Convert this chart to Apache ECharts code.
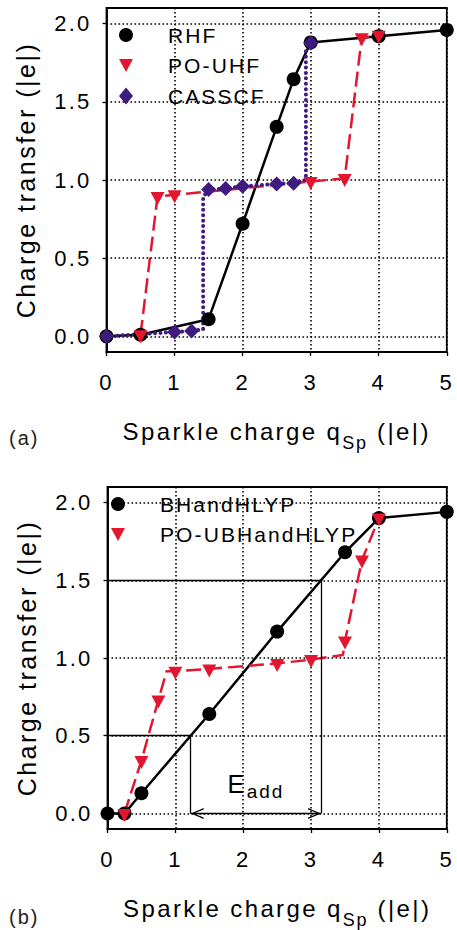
<!DOCTYPE html>
<html><head><meta charset="utf-8">
<script src="https://cdn.jsdelivr.net/npm/echarts@6/dist/echarts.min.js"></script>
<style>
html,body{margin:0;padding:0;background:#fff;}
#c{width:457px;height:930px;}
#c text{letter-spacing:0.1em !important;}
</style></head><body><div id="c"></div>
<script>
// ---------------- data ----------------
const xTicks = [0, 1, 2, 3, 4, 5];
const yTicks = [0, 0.5, 1.0, 1.5, 2.0];

// panel (a)
const rhfX = [0, 0.5, 1.5, 2.0, 2.5, 2.75, 3.0, 4.0, 5.0];
const rhfY = [0, 0.01, 0.11, 0.72, 1.34, 1.645, 1.88, 1.92, 1.96];

const pouhfX = [0.5, 0.75, 1.0, 3.0, 3.5, 3.75, 4.0];
const pouhfY = [0.01, 0.895, 0.905, 0.99, 1.01, 1.91, 1.925];

const casX = [0, 1.0, 1.25, 1.42, 1.42, 1.5, 1.75, 2.0, 2.5, 2.75, 2.93, 2.93, 3.0];
const casY = [0, 0.028, 0.034, 0.045, 0.89, 0.94, 0.945, 0.96, 0.975, 0.98, 1.0, 1.83, 1.876];
const casMark = [1, 1, 1, 0, 0, 1, 1, 1, 1, 1, 0, 0, 1];

// panel (b)
const bhX = [0, 0.25, 0.5, 1.5, 2.5, 3.5, 4.0, 5.0];
const bhY = [0, 0.0, 0.13, 0.64, 1.17, 1.68, 1.90, 1.94];

const pobhX = [0.25, 0.5, 0.75, 0.87, 1.0, 1.5, 2.5, 3.0, 3.47, 3.5, 3.75, 4.0];
const pobhY = [0.0, 0.34, 0.73, 0.915, 0.915, 0.93, 0.965, 0.99, 1.02, 1.11, 1.63, 1.90];
const pobhMark = [1, 1, 1, 0, 1, 1, 1, 1, 0, 1, 1, 1];

const eaddLevels = [0.5, 1.5];

// ---------------- styling helpers ----------------
const FONT = 'Liberation Sans';
const LS = 0.1;
const RED = '#e3162f';
const PURPLE = '#3f1b80';
const TRI = 'path://M0,0 L12,0 L6,11 Z';
const CHEV = 'path://M5,-12 L5.001,-12 Z M5,0 L10,12 L8.7,12 L5,2.9 L1.3,12 L0,12 Z';
const GRIDDOT = { color: '#000', width: 1.6, type: [1.6, 2.4] };

const mctx = document.createElement('canvas').getContext('2d');
echarts.setPlatformAPI({
  measureText(text, font) {
    mctx.font = font || '12px sans-serif';
    const w = mctx.measureText(text).width;
    if (text === '国') return { width: w };
    const m = /(\d+(?:\.\d+)?)px/.exec(font || '');
    const size = m ? parseFloat(m[1]) : 12;
    return { width: w + LS * size * Array.from(String(text)).length };
  }
});

function pts(xs, ys, mk) {
  return xs.map((x, i) => {
    const o = { value: [x, ys[i]] };
    if (mk && !mk[i]) o.symbol = 'none';
    return o;
  });
}
function crossing(xs, ys, level) {
  for (let i = 1; i < xs.length; i++) {
    if ((ys[i - 1] - level) * (ys[i] - level) <= 0 && ys[i] !== ys[i - 1]) {
      return xs[i - 1] + (level - ys[i - 1]) * (xs[i] - xs[i - 1]) / (ys[i] - ys[i - 1]);
    }
  }
  return null;
}
const xLo = crossing(bhX, bhY, eaddLevels[0]);
const xHi = crossing(bhX, bhY, eaddLevels[1]);

function mkX(gi) {
  return {
    gridIndex: gi, type: 'value', min: 0, max: 5, interval: 1,
    axisLine: { onZero: false, lineStyle: { color: '#000', width: 1.8 } },
    axisTick: { show: true, length: 4, lineStyle: { color: '#000', width: 1.3 } },
    axisLabel: { fontSize: 22, fontFamily: FONT, color: '#000', margin: 19 },
    splitLine: { show: true, lineStyle: GRIDDOT },
    name: '{m|Sparkle charge q}{s|Sp}{m| (|e|)}',
    nameLocation: 'middle', nameGap: 59,
    nameTextStyle: {
      fontSize: 24, fontFamily: FONT, color: '#000',
      rich: {
        m: { fontSize: 24, fontFamily: FONT, color: '#000', verticalAlign: 'middle' },
        s: { fontSize: 18, fontFamily: FONT, color: '#000', verticalAlign: 'middle', padding: [23, 0, 0, 0] }
      }
    }
  };
}
function mkY(gi) {
  return {
    gridIndex: gi, type: 'value', min: -0.1, max: 2.1,
    axisLine: { onZero: false, lineStyle: { color: '#000', width: 1.8 } },
    axisTick: { show: true, length: 4, customValues: yTicks, lineStyle: { color: '#000', width: 1.3 } },
    axisLabel: { customValues: yTicks, fontSize: 22, fontFamily: FONT, color: '#000', margin: 15,
      formatter: v => Number(v).toFixed(1) },
    splitLine: { show: true, lineStyle: GRIDDOT },
    name: 'Charge transfer (|e|)', nameLocation: 'middle', nameGap: 68, nameRotate: 90,
    nameTextStyle: { fontSize: 25, fontFamily: FONT, color: '#000' }
  };
}
function legend(left, top, items) {
  return {
    left, top, orient: 'vertical', padding: 0, itemWidth: 14, itemHeight: 17, itemGap: 9.5,
    selectedMode: false, lineStyle: { opacity: 0 },
    textStyle: { fontSize: 21, fontFamily: FONT, color: '#000', padding: [0, 0, 0, 30] },
    data: items
  };
}
const noEmph = { disabled: true };

const option = {
  animation: false,
  grid: [
    { left: 106.5, top: 8, right: 6, height: 344, show: true, borderColor: '#000', borderWidth: 1.8 },
    { left: 107.5, top: 487, right: 5.5, height: 345, show: true, borderColor: '#000', borderWidth: 1.8 }
  ],
  xAxis: [mkX(0), mkX(1)],
  yAxis: [mkY(0), mkY(1)],
  legend: [
    legend(119, 24.5, [{ name: 'RHF', icon: 'circle' }, { name: 'PO-UHF', icon: TRI }, { name: 'CASSCF', icon: 'diamond' }]),
    legend(111, 493.5, [{ name: 'BHandHLYP', icon: 'circle' }, { name: 'PO-UBHandHLYP', icon: TRI }])
  ],
  graphic: [
    { type: 'text', left: 9, top: 428, style: { text: '(a)', fontSize: 20, fontFamily: FONT, fill: '#222' } },
    { type: 'text', left: 9, top: 907, style: { text: '(b)', fontSize: 20, fontFamily: FONT, fill: '#222' } }
  ],
  series: [
    { name: 'RHF', type: 'line', xAxisIndex: 0, yAxisIndex: 0, data: pts(rhfX, rhfY),
      symbol: 'circle', symbolSize: 14, itemStyle: { color: '#000', borderWidth: 0 },
      lineStyle: { color: '#000', width: 2.5 }, emphasis: noEmph },
    { name: 'PO-UHF', type: 'line', xAxisIndex: 0, yAxisIndex: 0, data: pts(pouhfX, pouhfY),
      symbol: TRI, symbolSize: [14, 13], symbolOffset: [0, 2], itemStyle: { color: RED, borderWidth: 0 },
      lineStyle: { color: RED, width: 2.5, type: [15, 6] }, emphasis: noEmph },
    { name: 'CASSCF', type: 'line', xAxisIndex: 0, yAxisIndex: 0, data: pts(casX, casY, casMark),
      symbol: 'diamond', symbolSize: 15, itemStyle: { color: PURPLE, borderWidth: 0 },
      lineStyle: { color: PURPLE, width: 4, type: [0.01, 5.4], cap: 'round' }, emphasis: noEmph },
    { name: 'BHandHLYP', type: 'line', xAxisIndex: 1, yAxisIndex: 1, data: pts(bhX, bhY),
      symbol: 'circle', symbolSize: 14, itemStyle: { color: '#000', borderWidth: 0 },
      lineStyle: { color: '#000', width: 2.5 }, emphasis: noEmph,
      markLine: {
        silent: true, animation: false, symbol: 'none',
        label: { show: false },
        lineStyle: { color: '#000', width: 1.3, type: 'solid' },
        emphasis: { disabled: true },
        data: [
          [{ coord: [0, eaddLevels[1]] }, { coord: [xHi, eaddLevels[1]] }],
          [{ coord: [xHi, eaddLevels[1]] }, { coord: [xHi, 0] }],
          [{ coord: [0, eaddLevels[0]] }, { coord: [xLo, eaddLevels[0]] }],
          [{ coord: [xLo, eaddLevels[0]] }, { coord: [xLo, 0] }],
          [{ coord: [xLo, 0], symbol: CHEV, symbolSize: [11, 26],
             label: { show: true, position: 'middle', distance: 12, formatter: '{e|E}{s|add}',
               rich: {
                 e: { fontSize: 25, fontFamily: FONT, color: '#000', verticalAlign: 'middle' },
                 s: { fontSize: 19, fontFamily: FONT, color: '#000', verticalAlign: 'middle', padding: [16, 0, 0, 0] }
               } } },
           { coord: [xHi, 0], symbol: CHEV, symbolSize: [11, 26] }]
        ]
      } },
    { name: 'PO-UBHandHLYP', type: 'line', xAxisIndex: 1, yAxisIndex: 1, data: pts(pobhX, pobhY, pobhMark),
      symbol: TRI, symbolSize: [14, 13], symbolOffset: [0, 2], itemStyle: { color: RED, borderWidth: 0 },
      lineStyle: { color: RED, width: 2.5, type: [15, 6] }, emphasis: noEmph }
  ]
};
const chart = echarts.init(document.getElementById('c'), null, { renderer: 'svg', width: 457, height: 930 });
chart.setOption(option);
</script></body></html>
